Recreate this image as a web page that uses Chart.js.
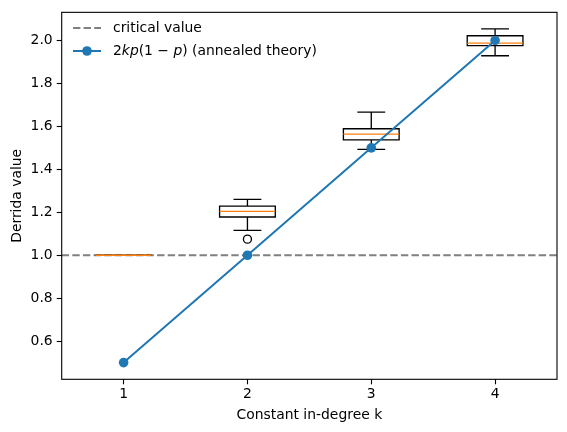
<!DOCTYPE html>
<html>
<head>
<meta charset="utf-8">
<script src="https://cdn.jsdelivr.net/npm/chart.js@4.4.1/dist/chart.umd.min.js"></script>
<style>
  html, body { margin: 0; padding: 0; background: #fff; }
  #wrap { width: 567px; height: 432px; }
</style>
</head>
<body>
<div id="wrap"><canvas id="derridaChart" width="567" height="432"></canvas></div>
<script>
    // data
    const kValues = [1, 2, 3, 4];
    const whiskerLow = [1.0, 1.116, 1.493, 1.929];
    const q1 = [1.0, 1.178, 1.537, 1.976];
    const median = [1.0, 1.204, 1.564, 1.988];
    const q3 = [1.0, 1.229, 1.589, 2.022];
    const whiskerHigh = [1.0, 1.260, 1.666, 2.054];
    const outliers = [[], [1.075], [], []];
    const annealed = [0.5, 1.0, 1.5, 2.0];
    const criticalValue = 1.0;
    const yTicks = [0.6, 0.8, 1.0, 1.2, 1.4, 1.6, 1.8, 2.0];

    const xMin = 0.5, xMax = 4.5;
    const yMin = 0.4223, yMax = 2.131;
    const fontFamily = '"DejaVu Sans", sans-serif';
    const fs = 13.9;

    // box plots: drawn over the dashed line, under the theory line
    const boxPlugin = {
        id: 'boxes',
        afterDatasetDraw(chart, args) {
            if (args.index !== 1) return;
            const ctx = chart.ctx;
            const xs = chart.scales.x, ys = chart.scales.y;
            ctx.save();
            ctx.lineWidth = 1.33;
            kValues.forEach((k, i) => {
                const cx = xs.getPixelForValue(k);
                const hw = xs.getPixelForValue(k + 0.225) - cx;
                const cw = hw / 2;
                const yLo = ys.getPixelForValue(whiskerLow[i]);
                const yQ1 = ys.getPixelForValue(q1[i]);
                const yMed = ys.getPixelForValue(median[i]);
                const yQ3 = ys.getPixelForValue(q3[i]);
                const yHi = ys.getPixelForValue(whiskerHigh[i]);
                ctx.strokeStyle = '#000';
                ctx.beginPath();
                ctx.rect(cx - hw, yQ3, 2 * hw, yQ1 - yQ3);
                ctx.moveTo(cx, yQ1); ctx.lineTo(cx, yLo);
                ctx.moveTo(cx, yQ3); ctx.lineTo(cx, yHi);
                ctx.moveTo(cx - cw, yLo); ctx.lineTo(cx + cw, yLo);
                ctx.moveTo(cx - cw, yHi); ctx.lineTo(cx + cw, yHi);
                ctx.stroke();
                ctx.strokeStyle = '#ff7f0e';
                ctx.beginPath();
                ctx.moveTo(cx - hw, yMed); ctx.lineTo(cx + hw, yMed);
                ctx.stroke();
                ctx.strokeStyle = '#000';
                outliers[i].forEach(v => {
                    ctx.beginPath();
                    ctx.arc(cx, ys.getPixelForValue(v), 4, 0, Math.PI * 2);
                    ctx.stroke();
                });
            });
            ctx.restore();
        },
        afterDatasetsDraw(chart) {
            // axes frame
            const a = chart.chartArea, ctx = chart.ctx;
            ctx.save();
            ctx.strokeStyle = '#000';
            ctx.lineWidth = 1.1;
            ctx.strokeRect(a.left, a.top, a.right - a.left, a.bottom - a.top);
            ctx.restore();
        },
        afterDraw(chart) {
            // legend, top left, no frame
            const ctx = chart.ctx;
            const x0 = 73, x1 = 101, tx = 113;
            const r1 = 28, r2 = 51;
            ctx.save();
            ctx.lineWidth = 2;
            ctx.strokeStyle = '#808080';
            ctx.setLineDash([7.4, 3.2]);
            ctx.beginPath(); ctx.moveTo(x0, r1); ctx.lineTo(x1, r1); ctx.stroke();
            ctx.setLineDash([]);
            ctx.strokeStyle = '#1f77b4';
            ctx.beginPath(); ctx.moveTo(x0, r2); ctx.lineTo(x1, r2); ctx.stroke();
            ctx.fillStyle = '#1f77b4';
            ctx.beginPath(); ctx.arc((x0 + x1) / 2, r2, 4.8, 0, Math.PI * 2); ctx.fill();

            ctx.fillStyle = '#000';
            ctx.textBaseline = 'middle';
            ctx.textAlign = 'left';
            const up = fs + 'px ' + fontFamily;
            const it = 'italic ' + fs + 'px ' + fontFamily;
            ctx.font = up;
            ctx.fillText('critical value', tx, r1);
            const parts = [['2', up], ['kp', it], ['(1 \u2212 ', up], ['p', it], [') (annealed theory)', up]];
            let px = tx;
            parts.forEach(([t, f]) => {
                ctx.font = f;
                ctx.fillText(t, px, r2);
                px += ctx.measureText(t).width;
            });
            ctx.restore();
        }
    };

    const ctx = document.getElementById('derridaChart').getContext('2d');
    new Chart(ctx, {
        type: 'line',
        data: {
        datasets: [{
            label: '2kp(1-p) (annealed theory)',
            data: kValues.map((k, i) => ({ x: k, y: annealed[i] })),
            borderColor: '#1f77b4',
            backgroundColor: '#1f77b4',
            borderWidth: 2,
            pointRadius: 4.8,
            pointBorderWidth: 0,
            pointBackgroundColor: '#1f77b4',
            tension: 0
        }, {
            label: 'critical value',
            data: [{ x: xMin, y: criticalValue }, { x: xMax, y: criticalValue }],
            borderColor: '#808080',
            borderWidth: 2,
            borderDash: [7.4, 3.2],
            pointRadius: 0
        }]
        },
        options: {
        responsive: false,
        animation: false,
        devicePixelRatio: 1,
        layout: { padding: { top: 9.3, right: 10, left: 0, bottom: 0 } },
        plugins: { legend: { display: false }, tooltip: { enabled: false } },
        scales: {
            x: {
            type: 'linear',
            min: xMin,
            max: xMax,
            afterBuildTicks: s => { s.ticks = kValues.map(v => ({ value: v })); },
            afterFit: s => { s.height = 432 - 379.3; },
            grid: { drawOnChartArea: false, tickLength: 5, tickColor: '#000', tickWidth: 1.1 },
            border: { display: false },
            ticks: { color: '#000', font: { family: fontFamily, size: fs }, padding: 2, maxRotation: 0 },
            title: { display: true, text: 'Constant in-degree k', color: '#000', font: { family: fontFamily, size: fs }, padding: { top: 0, bottom: 8 } }
            },
            y: {
            type: 'linear',
            min: yMin,
            max: yMax,
            afterBuildTicks: s => { s.ticks = yTicks.map(v => ({ value: v })); },
            afterFit: s => { s.width = 61.7; },
            grid: { drawOnChartArea: false, tickLength: 5, tickColor: '#000', tickWidth: 1.1 },
            border: { display: false },
            ticks: { color: '#000', font: { family: fontFamily, size: fs }, padding: 4, callback: v => v.toFixed(1) },
            title: { display: true, text: 'Derrida value', color: '#000', font: { family: fontFamily, size: fs }, padding: { top: 9, bottom: 0 } }
            }
        }
        },
        plugins: [boxPlugin]
    });
</script>
</body>
</html>
